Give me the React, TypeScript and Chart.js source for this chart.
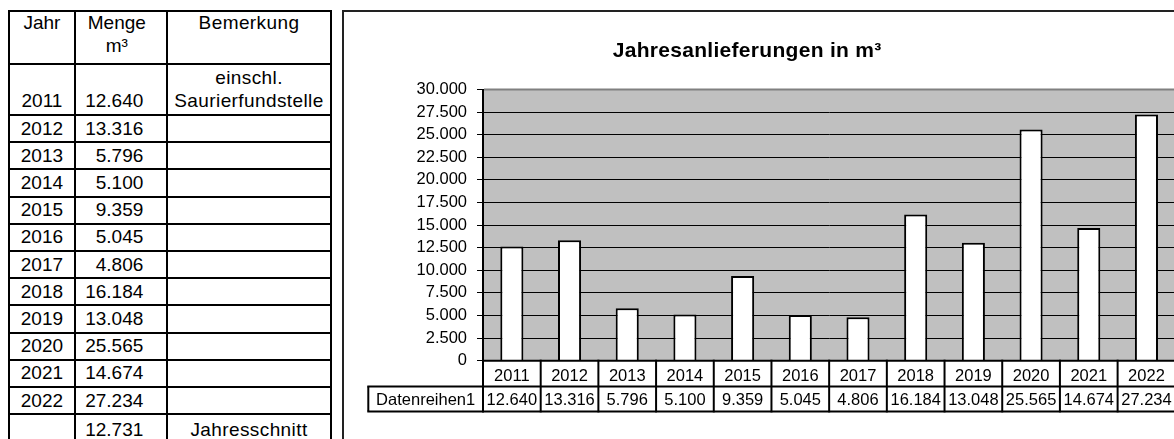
import React, { useEffect, useRef } from 'react';
import { Chart, registerables } from 'chart.js';

Chart.register(...registerables);

// ---------- data ----------
const years = ['2011', '2012', '2013', '2014', '2015', '2016', '2017', '2018', '2019', '2020', '2021', '2022'];
const amounts = [12640, 13316, 5796, 5100, 9359, 5045, 4806, 16184, 13048, 25565, 14674, 27234];
const remarks = ['einschl.\nSaurierfundstelle', '', '', '', '', '', '', '', '', '', '', ''];
const averageAmount = 12731;
const averageLabel = 'Jahresschnitt';
const tableHeaders = ['Jahr', 'Menge\nm³', 'Bemerkung'];
const seriesName = 'Datenreihen1';
const chartTitle = 'Jahresanlieferungen in m³';
const yMax = 30000;
const yStep = 2500;

const FONT = "'Liberation Sans', Arial, sans-serif";

function fmt(n: number): string {
  return String(Math.round(n)).replace(/\B(?=(\d{3})+(?!\d))/g, '.');
}

// ---------- left table layout ----------
const vLines = [9.2, 74.7, 167, 331];
const rowHeights = [52.5, 51.5, ...years.slice(1).map(() => 27.2), 29.5];
const hLines: number[] = [11];
rowHeights.forEach((h) => hLines.push(hLines[hLines.length - 1] + h));

function LeftTable() {
  const rows: { cells: string[]; header: boolean }[] = [];
  rows.push({ cells: tableHeaders, header: true });
  years.forEach((y, i) => rows.push({ cells: [y, fmt(amounts[i]), remarks[i]], header: false }));
  rows.push({ cells: ['', fmt(averageAmount), averageLabel], header: false });

  const els: React.ReactNode[] = [];
  hLines.forEach((y, i) => {
    els.push(
      <div key={'h' + i} style={{ position: 'absolute', left: vLines[0] - 1, top: y - 1, width: vLines[3] - vLines[0] + 2, height: 2, background: '#000' }} />
    );
  });
  vLines.forEach((x, i) => {
    els.push(
      <div key={'v' + i} style={{ position: 'absolute', left: x - 1, top: hLines[0] - 1, width: 2, height: 460, background: '#000' }} />
    );
  });
  rows.forEach((row, r) => {
    const t = hLines[r];
    const b = hLines[r + 1];
    row.cells.forEach((txt, c) => {
      if (!txt) return;
      const l = vLines[c];
      const rr = vLines[c + 1];
      const base: React.CSSProperties = {
        position: 'absolute',
        whiteSpace: 'pre',
        lineHeight: '23px',
        fontSize: 19,
        fontFamily: FONT,
        color: '#000',
        letterSpacing: c === 2 ? '0.4px' : undefined,
      };
      if (row.header) {
        const width = c === 1 ? rr - l - 10 : rr - l - 2;
        els.push(
          <div key={`c${r}-${c}`} style={{ ...base, left: l + 1, width, top: t + 0.4, textAlign: 'center' }}>{txt}</div>
        );
      } else {
        let left = l + 1;
        let width = rr - l - 2;
        let align: 'center' | 'right' = 'center';
        if (c === 1) {
          width = 143.3 - left;
          align = 'right';
        }
        els.push(
          <div
            key={`c${r}-${c}`}
            style={{
              ...base,
              left,
              width,
              top: t,
              height: b - t - 2.6,
              display: 'flex',
              flexDirection: 'column',
              justifyContent: 'flex-end',
              textAlign: align,
            }}
          >
            {txt}
          </div>
        );
      }
    });
  });
  return <>{els}</>;
}

// ---------- chart plugins ----------
const bgPlugin = {
  id: 'plotBg',
  beforeDraw(chart: any) {
    const { ctx, chartArea } = chart;
    ctx.save();
    ctx.fillStyle = '#C0C0C0';
    ctx.fillRect(chartArea.left, chartArea.top, chartArea.right - chartArea.left, chartArea.bottom - chartArea.top);
    ctx.restore();
  },
  afterDatasetsDraw(chart: any) {
    const { ctx, chartArea } = chart;
    ctx.save();
    ctx.fillStyle = '#808080';
    ctx.fillRect(chartArea.left + 1, chartArea.top - 1, chartArea.right - chartArea.left, 2);
    ctx.fillRect(chartArea.right - 1, chartArea.top - 1, 2, chartArea.bottom - chartArea.top);
    ctx.restore();
  },
};

const titlePlugin = {
  id: 'customTitle',
  afterDraw(chart: any) {
    const { ctx } = chart;
    ctx.save();
    ctx.font = `bold 21px ${FONT}`;
    (ctx as any).letterSpacing = '0.3px';
    ctx.fillStyle = '#000';
    ctx.textAlign = 'left';
    ctx.textBaseline = 'alphabetic';
    ctx.fillText(chartTitle, 268.7, 44.5);
    ctx.restore();
  },
};

const LABEL_CELL_WIDTH = 114.7;
const ROW1_H = 25.7;
const ROW2_H = 25;

const tablePlugin = {
  id: 'dataTable',
  afterDraw(chart: any) {
    const { ctx, chartArea } = chart;
    const xs = chart.scales.x;
    const n = years.length;
    const step = xs.getPixelForValue(1) - xs.getPixelForValue(0);
    const top = chartArea.bottom;
    const r1 = top + ROW1_H;
    const r2 = r1 + ROW2_H;
    const labelLeft = chartArea.left - LABEL_CELL_WIDTH;
    ctx.save();
    ctx.strokeStyle = '#000';
    ctx.lineWidth = 2;
    const line = (x1: number, y1: number, x2: number, y2: number) => {
      ctx.beginPath();
      ctx.moveTo(x1, y1);
      ctx.lineTo(x2, y2);
      ctx.stroke();
    };
    line(chartArea.left, top, chartArea.right, top);
    line(labelLeft - 1, r1, chartArea.right, r1);
    line(labelLeft - 1, r2, chartArea.right, r2);
    line(labelLeft, r1, labelLeft, r2);
    for (let i = 0; i <= n; i++) {
      const x = i < n ? xs.getPixelForValue(i) - step / 2 : xs.getPixelForValue(n - 1) + step / 2;
      line(x, top - 1, x, r2 + 1);
    }
    ctx.fillStyle = '#000';
    ctx.font = `16.5px ${FONT}`;
    ctx.textAlign = 'center';
    ctx.textBaseline = 'alphabetic';
    for (let i = 0; i < n; i++) {
      const cx = xs.getPixelForValue(i);
      ctx.fillText(years[i], cx, top + 20.5);
      ctx.fillText(fmt(amounts[i]), cx, r1 + 19);
    }
    ctx.fillText(seriesName, labelLeft + LABEL_CELL_WIDTH / 2, r1 + 19);
    ctx.restore();
  },
};

function BarChart() {
  const ref = useRef<HTMLCanvasElement | null>(null);
  useEffect(() => {
    if (!ref.current) return;
    const chart = new Chart(ref.current, {
      type: 'bar',
      data: {
        labels: years,
        datasets: [
          {
            label: seriesName,
            data: amounts,
            backgroundColor: '#ffffff',
            borderColor: '#000000',
            borderWidth: 2,
            barPercentage: 0.4,
            categoryPercentage: 1,
          },
        ],
      },
      options: {
        responsive: false,
        animation: false,
        devicePixelRatio: 1,
        layout: { padding: { left: 0, top: 77.5, right: 8.7, bottom: 78.3 } },
        plugins: {
          legend: { display: false },
          tooltip: { enabled: false },
          title: { display: false },
        },
        scales: {
          x: { display: false },
          y: {
            min: 0,
            max: yMax,
            afterFit: (s: any) => {
              s.width = 139;
            },
            ticks: {
              stepSize: yStep,
              autoSkip: false,
              callback: (v: any) => fmt(Number(v)),
              color: '#000',
              font: { family: FONT, size: 16.5 },
              padding: 10,
            },
            grid: { color: '#000', lineWidth: 1, tickLength: 6, drawTicks: true },
            border: { color: '#000', width: 2 },
          },
        },
      } as any,
      plugins: [bgPlugin, tablePlugin, titlePlugin],
    });
    return () => chart.destroy();
  }, []);
  return (
    <canvas
      ref={ref}
      width={840}
      height={427}
      style={{ position: 'absolute', left: 344, top: 12, width: 840, height: 427 }}
    />
  );
}

export default function App() {
  return (
    <div
      style={{
        position: 'absolute',
        left: 0,
        top: 0,
        width: 1174,
        height: 439,
        overflow: 'hidden',
        background: '#fff',
        fontFamily: FONT,
      }}
    >
      <LeftTable />
      <div
        style={{
          position: 'absolute',
          left: 342,
          top: 10,
          width: 900,
          height: 500,
          borderLeft: '2px solid #222',
          borderTop: '2px solid #222',
          boxSizing: 'border-box',
        }}
      />
      <BarChart />
    </div>
  );
}
